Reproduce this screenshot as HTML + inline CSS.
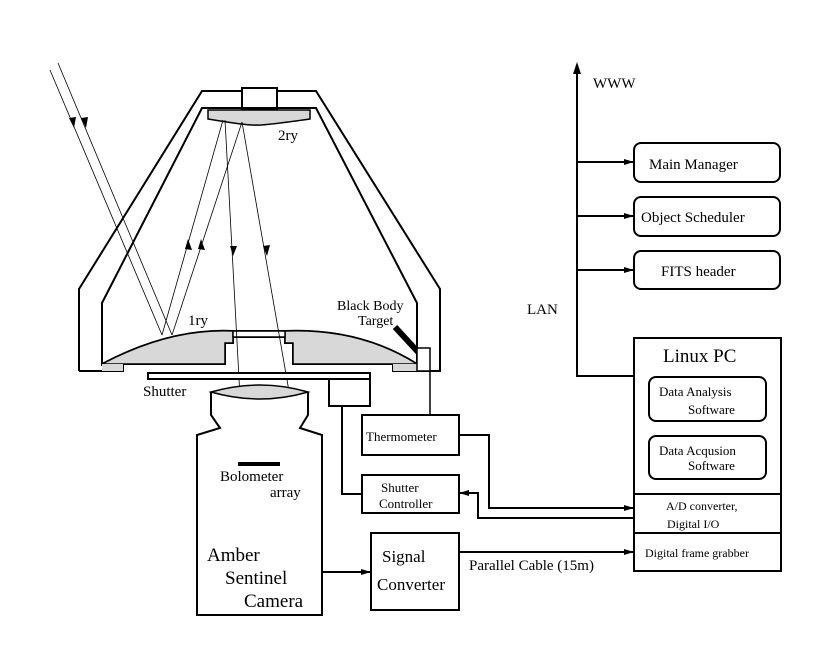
<!DOCTYPE html>
<html><head><style>body{margin:0;background:#fff}svg{display:block}text{font-family:"Liberation Serif",serif;fill:#000}</style></head>
<body>
<svg width="830" height="655" viewBox="0 0 830 655" xmlns="http://www.w3.org/2000/svg">
<defs><marker id="a" markerWidth="10" markerHeight="8" refX="9" refY="4" orient="auto" markerUnits="userSpaceOnUse"><path d="M0,1 L10,4 L0,7 Z" fill="#000"/></marker></defs>
<g fill="none" stroke="#000" stroke-width="2">
<!-- housing outer -->
<path d="M79,371 L79,289 L202,91 L242,91 M277,91 L316,91 L440,289 L440,371 L393,371"/>
<path d="M79,371 L123,371"/>
<rect x="242" y="88" width="35" height="22"/>
<!-- inner -->
<path d="M102,366 L102,303 L202,108 L316,108 L417,303 L417,366"/>
</g>
<!-- primary mirror -->
<path d="M102,364 Q170,328 233,331 L285,331 Q360,328 417,364 L417,366 L393,364 L393,371 L440,371 M393,364 L293,364 L293,343 L285,343 L285,337 L233,337 L233,343 L225,343 L225,364 L123,364 L123,371 L79,371" fill="none" stroke="#000" stroke-width="2"/>
<path d="M102,364 Q170,328 233,331 L233,343 L225,343 L225,364 Z" fill="#d8d8d8" stroke="#000" stroke-width="1.5"/>
<path d="M417,364 Q360,328 285,331 L285,343 L293,343 L293,364 Z" fill="#d8d8d8" stroke="#000" stroke-width="1.5"/>
<path d="M102,364 L123,364 L123,371 L102,371 Z" fill="#d8d8d8" stroke="none"/>
<path d="M393,364 L417,364 L417,371 L393,371 Z" fill="#d8d8d8" stroke="none"/>
<rect x="233" y="331" width="52" height="6" fill="#fff" stroke="#000" stroke-width="1.5"/>
<!-- secondary -->
<path d="M208,110 L310,110 L310,119 Q260,126 257,125 Q250,126 208,119 Z" fill="#d8d8d8" stroke="#000" stroke-width="1.5"/>
<!-- rays -->
<g stroke="#000" stroke-width="0.8" fill="none">
<line x1="50" y1="70" x2="162" y2="335" marker-mid="url(#a)"/>
<line x1="58" y1="63" x2="172" y2="335"/>
<line x1="162" y1="335" x2="223" y2="120"/>
<line x1="172" y1="335" x2="242" y2="122"/>
<polyline points="225,120 240,397 267,463"/>
<polyline points="242,122 290,397 267,463"/>
</g>
<g fill="#000">
<path d="M74,128 l-5,-10 l7,-1 Z"/><path d="M86,128 l-5,-10 l7,-1 Z"/>
<path d="M188,239 l-3,10 l7,1 Z"/><path d="M201,239 l-3,10 l7,1 Z"/>
<path d="M233,256 l-3,-10 l7,0 Z"/><path d="M267,256 l-4,-10 l7,-1 Z"/>
<path d="M259,436 l-6,-9 l7,-2 Z"/><path d="M277,436 l-1,-11 l7,2 Z"/>
</g>
<!-- black body -->
<line x1="395" y1="327" x2="418" y2="352" stroke="#000" stroke-width="6"/>
<rect x="417" y="348" width="13" height="23" fill="#fff" stroke="#000" stroke-width="1.5"/>
<line x1="430" y1="371" x2="430" y2="415" stroke="#000" stroke-width="1.5"/>
<!-- shutter -->
<g fill="#fff" stroke="#000" stroke-width="2">
<rect x="148" y="373" width="222" height="6"/>
<rect x="329" y="379" width="41" height="27"/>
<path d="M211,392 L211,415 L220,428 L197,435 L197,615 L322,615 L322,435 L300,428 L308,415 L308,392"/>
</g>
<path d="M211,392 Q260,378 308,392 Q260,406 211,392 Z" fill="#d8d8d8" stroke="#000" stroke-width="1.5"/>
<rect x="238" y="462" width="42" height="4" fill="#000"/>
<g fill="none" stroke="#000" stroke-width="2">
<polyline points="342,406 342,494 362,494"/>
<rect x="362" y="415" width="97" height="40"/>
<rect x="362" y="475" width="97" height="38"/>
<rect x="371" y="533" width="88" height="77"/>
<line x1="322" y1="572" x2="370" y2="572" marker-end="url(#a)"/>
<polyline points="459,435 489,435 489,508 633,508" marker-end="url(#a)"/>
<polyline points="634,518 478,518 478,493 460,493" marker-end="url(#a)"/>
<line x1="459" y1="552" x2="633" y2="552" marker-end="url(#a)"/>
<rect x="634" y="338" width="147" height="233"/>
<line x1="634" y1="494" x2="781" y2="494"/>
<line x1="634" y1="533" x2="781" y2="533"/>
<rect x="649" y="377" width="117" height="44" rx="7"/>
<rect x="649" y="436" width="117" height="43" rx="7"/>
<polyline points="577,67 577,376 634,376"/>
<rect x="634" y="143" width="146" height="39" rx="7"/>
<rect x="634" y="197" width="146" height="39" rx="7"/>
<rect x="634" y="251" width="146" height="38" rx="7"/>
<line x1="577" y1="162" x2="633" y2="162" marker-end="url(#a)"/>
<line x1="577" y1="216" x2="633" y2="216" marker-end="url(#a)"/>
<line x1="577" y1="270" x2="633" y2="270" marker-end="url(#a)"/>
</g>
<path d="M577,62 L573,74 L581,74 Z" fill="#000"/>
<g font-size="15">
<text x="278" y="140">2ry</text>
<text x="188" y="325">1ry</text>
<text x="337" y="310" font-size="14">Black Body</text>
<text x="358" y="325" font-size="14">Target</text>
<text x="143" y="396">Shutter</text>
<text x="220" y="481" font-size="15">Bolometer</text>
<text x="270" y="497" font-size="15">array</text>
<text x="207" y="561" font-size="19">Amber</text>
<text x="225" y="584" font-size="19">Sentinel</text>
<text x="244" y="607" font-size="19">Camera</text>
<text x="366" y="441" font-size="13">Thermometer</text>
<text x="381" y="492" font-size="13">Shutter</text>
<text x="379" y="508" font-size="13">Controller</text>
<text x="382" y="562" font-size="17">Signal</text>
<text x="377" y="590" font-size="17">Converter</text>
<text x="469" y="570">Parallel Cable (15m)</text>
<text x="663" y="362" font-size="19">Linux PC</text>
<text x="659" y="396" font-size="13">Data Analysis</text>
<text x="688" y="414" font-size="13">Software</text>
<text x="659" y="455" font-size="13">Data Acqusion</text>
<text x="688" y="470" font-size="13">Software</text>
<text x="666" y="510" font-size="12">A/D converter,</text>
<text x="667" y="528" font-size="12">Digital I/O</text>
<text x="645" y="557" font-size="12">Digital frame grabber</text>
<text x="593" y="88">WWW</text>
<text x="527" y="314">LAN</text>
<text x="649" y="169">Main Manager</text>
<text x="641" y="222">Object Scheduler</text>
<text x="661" y="276">FITS header</text>
</g>
</svg>
</body></html>
